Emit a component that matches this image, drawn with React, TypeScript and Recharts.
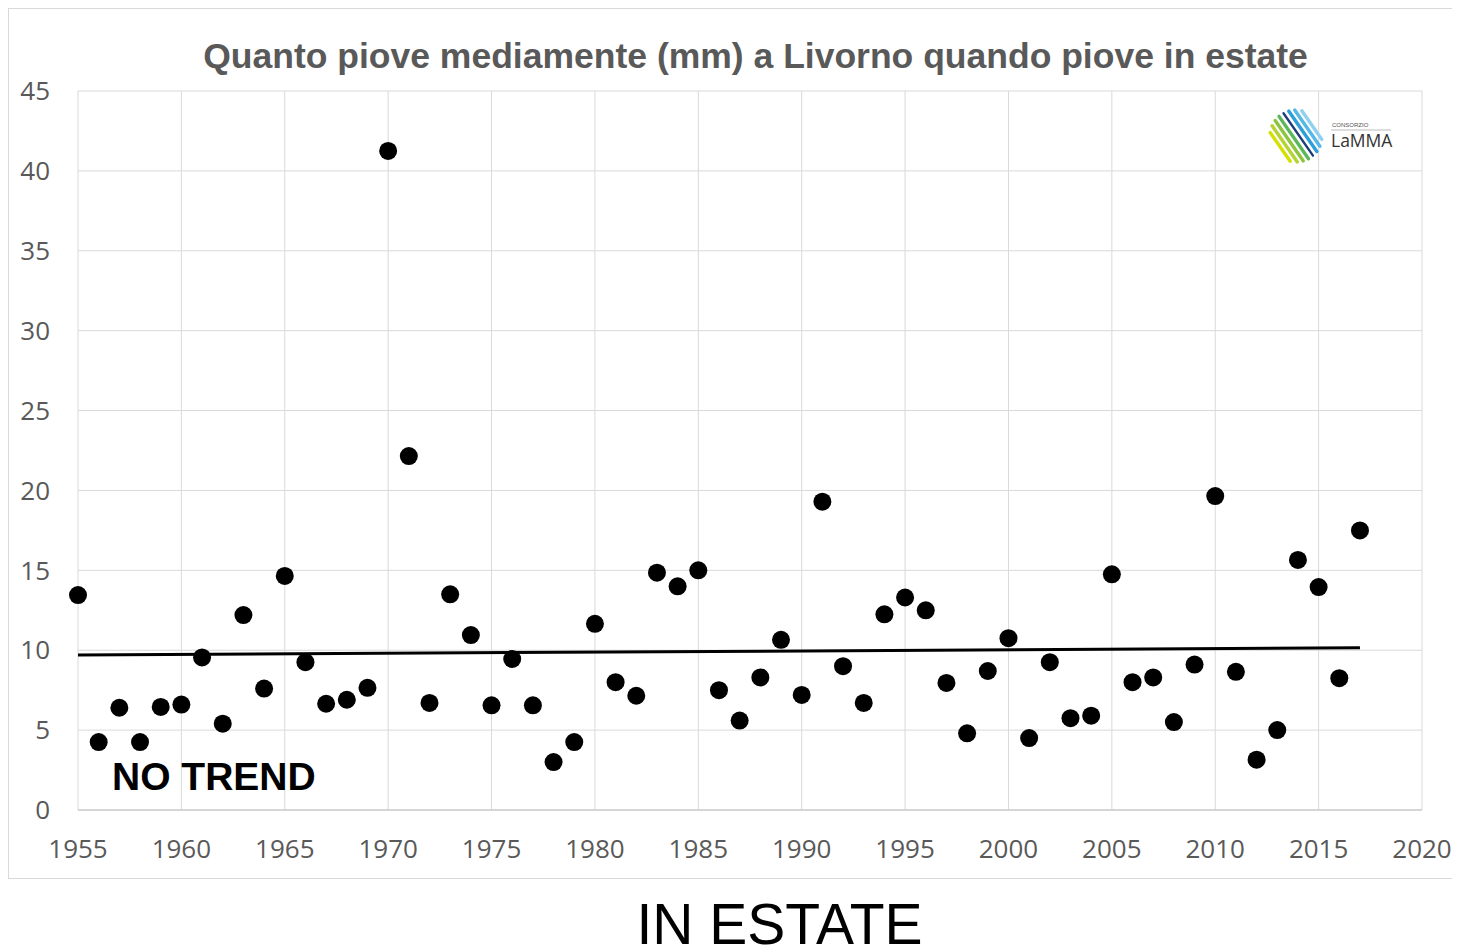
import React from 'react';
import { ComposedChart, Scatter, XAxis, YAxis, CartesianGrid } from 'recharts';

const years = [
  1955, 1956, 1957, 1958, 1959, 1960, 1961, 1962, 1963, 1964,
  1965, 1966, 1967, 1968, 1969, 1970, 1971, 1972, 1973, 1974,
  1975, 1976, 1977, 1978, 1979, 1980, 1981, 1982, 1983, 1984,
  1985, 1986, 1987, 1988, 1989, 1990, 1991, 1992, 1993, 1994,
  1995, 1996, 1997, 1998, 1999, 2000, 2001, 2002, 2003, 2004,
  2005, 2006, 2007, 2008, 2009, 2010, 2011, 2012, 2013, 2014,
  2015, 2016, 2017,
];

const rain = [
  13.45, 4.25, 6.4, 4.25, 6.45, 6.6, 9.55, 5.4, 12.2, 7.6,
  14.65, 9.25, 6.65, 6.9, 7.65, 41.25, 22.15, 6.7, 13.5, 10.95,
  6.55, 9.45, 6.55, 3.0, 4.25, 11.65, 8.0, 7.15, 14.85, 14.0,
  15.0, 7.5, 5.6, 8.3, 10.65, 7.2, 19.3, 9.0, 6.7, 12.25,
  13.3, 12.5, 7.95, 4.8, 8.7, 10.75, 4.5, 9.25, 5.75, 5.9,
  14.75, 8.0, 8.3, 5.5, 9.1, 19.65, 8.65, 3.15, 5.0, 15.65,
  13.95, 8.25, 17.5,
];

const trendYears = [1955, 2017];
const trendValues = [9.7, 10.15];

const xTicks = [1955, 1960, 1965, 1970, 1975, 1980, 1985, 1990, 1995, 2000, 2005, 2010, 2015, 2020];
const yTicks = [0, 5, 10, 15, 20, 25, 30, 35, 40, 45];

const points = years.map((year, i) => ({ year, value: rain[i] }));
const trend = trendYears.map((year, i) => ({ year, value: trendValues[i] }));

const tickStyle = { fill: '#595959', fontSize: 26, fontFamily: '"Open Sans", sans-serif' };
const arial = '"Liberation Sans", Arial, sans-serif';

const Dot = (props: any) => <circle cx={props.cx} cy={props.cy} r={9} fill="#000" />;
const NoShape = () => <g />;

// logo stripes: chords of a circle, yellow-green at lower left to light blue at upper right
const stripeColors = ['#d4e000', '#b5d334', '#8cc63f', '#5bb85a', '#1f3d7a', '#2d9fd9', '#56b8e6', '#8fd0f0'];

const Logo = () => {
  const cx = 32;
  const cy = 28;
  const r = 26;
  const d = [0.57, 0.82];
  const n = [0.82, -0.57];
  return (
    <svg width={140} height={60} style={{ position: 'absolute', left: 1256, top: 100 }}>
      <g strokeLinecap="round" strokeWidth={3.4}>
        {stripeColors.map((c, i) => {
          const t = -19.25 + i * 5.5;
          const h = Math.sqrt(r * r - t * t);
          const mx = cx + t * n[0];
          const my = cy + t * n[1];
          return (
            <line
              key={c}
              x1={mx - h * d[0]}
              y1={my - h * d[1]}
              x2={mx + h * d[0]}
              y2={my + h * d[1]}
              stroke={c}
              strokeWidth={c === '#1f3d7a' ? 2.4 : 3.4}
            />
          );
        })}
      </g>
      <text x={68} y={19} fontSize={6} fill="#555" fontFamily="Arial, sans-serif">CONSORZIO</text>
      <line x1={67} y1={22} x2={127} y2={22} stroke="#bbb" strokeWidth={1} />
      <text x={67} y={39} fontSize={17.5} fill="#333" fontFamily='"Open Sans", sans-serif'>LaMMA</text>
    </svg>
  );
};

export default function App() {
  return (
    <div style={{ position: 'relative', width: 1452, height: 941, background: '#fff' }}>
      <div
        style={{
          position: 'absolute',
          left: 0,
          top: 0,
          width: 1452,
          height: 871,
          border: '1px solid #d9d9d9',
          boxSizing: 'border-box',
        }}
      >
        <ComposedChart
          width={1450}
          height={869}
          data={points}
          margin={{ top: 82, right: 37, bottom: 18, left: 9 }}
        >
          <CartesianGrid stroke="#d9d9d9" strokeWidth={1} />
          <XAxis
            type="number"
            dataKey="year"
            domain={[1955, 2020]}
            ticks={xTicks}
            interval={0}
            height={50}
            tickSize={0}
            tickMargin={30}
            axisLine={{ stroke: '#bfbfbf' }}
            tickLine={false}
            tick={tickStyle}
          />
          <YAxis
            type="number"
            dataKey="value"
            domain={[0, 45]}
            ticks={yTicks}
            interval={0}
            width={60}
            tickSize={0}
            tickMargin={28}
            axisLine={false}
            tickLine={false}
            tick={tickStyle}
          />
          <Scatter data={points} dataKey="value" shape={Dot} isAnimationActive={false} />
          <Scatter
            data={trend}
            dataKey="value"
            line={{ stroke: '#000', strokeWidth: 3 }}
            shape={NoShape}
            isAnimationActive={false}
          />
        </ComposedChart>
      </div>
      <svg
        width={1452}
        height={941}
        style={{ position: 'absolute', left: 0, top: 0, pointerEvents: 'none' }}
      >
        <text
          x={747.5}
          y={60}
          textAnchor="middle"
          fontFamily={arial}
          fontWeight="bold"
          fontSize={35.5}
          fill="#595959"
        >
          Quanto piove mediamente (mm) a Livorno quando piove in estate
        </text>
        <text x={104} y={782} fontFamily={arial} fontWeight="bold" fontSize={39} fill="#000">
          NO TREND
        </text>
        <text x={771.5} y={936} textAnchor="middle" fontFamily={arial} fontSize={57} fill="#000">
          IN ESTATE
        </text>
      </svg>
      <Logo />
    </div>
  );
}
